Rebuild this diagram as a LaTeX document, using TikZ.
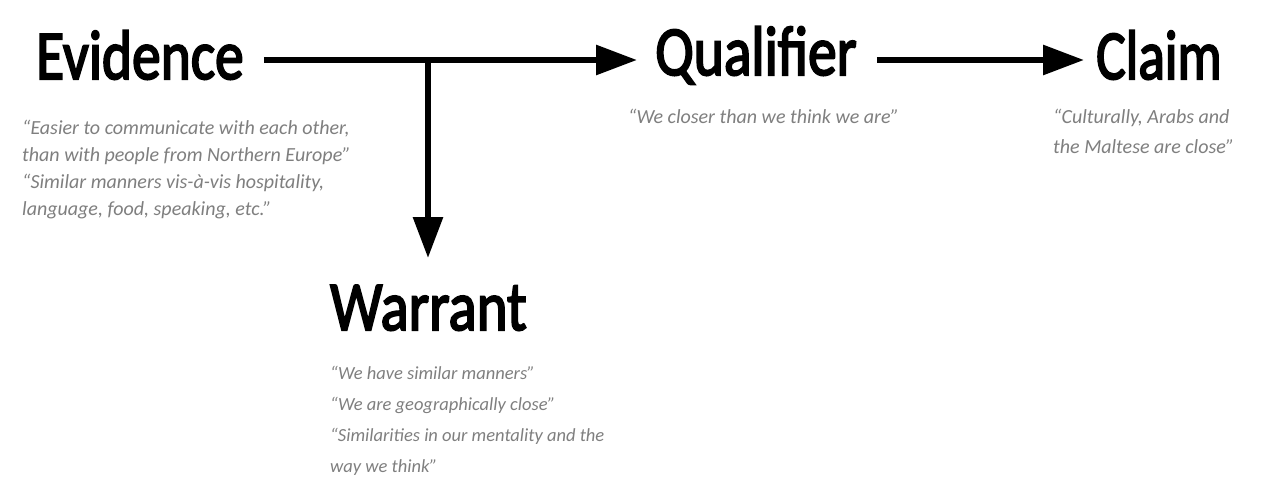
\documentclass[tikz,border=0pt]{standalone}
\usepackage{fontspec}
\setmainfont{Carlito}
\newfontfamily\headfont{Carlito}[BoldFont={Carlito},BoldFeatures={FakeBold=3}]
\usetikzlibrary{arrows.meta}
\definecolor{quotegray}{HTML}{7F7F7F}
\begin{document}
\begin{tikzpicture}[x=1pt,y=-1pt,
  title/.style={anchor=base west,inner sep=0pt,font=\fontsize{70}{70}\headfont\bfseries},
  quote/.style={anchor=north west,inner sep=0pt,align=left,text=quotegray,
    font=\fontsize{20}{27}\selectfont\itshape},
  arr/.style={line width=6pt,-{Triangle[length=41pt,width=29pt]}}]
\useasboundingbox (0,0) rectangle (1272,487);
\fill[white] (0,0) rectangle (1272,487);

% headings
\node[title] (evidence) at (36,79) {\scalebox{0.82}[1]{Evidence}};
\node[title] (qualifier) at (655,75) {\scalebox{0.82}[1]{Qualifier}};
\node[title] (claim) at (1096,79) {\scalebox{0.79}[1]{Claim}};
\node[title] (warrant) at (330,330) {\scalebox{0.84}[1]{Warrant}};

% quotations under each heading
\node[quote] (evq) at (22,120) {“Easier to communicate with each other,\\
than with people from Northern Europe”\\
“Similar manners vis-à-vis hospitality,\\
language, food, speaking, etc.”};
\node[quote] (quq) at (628,109) {“We closer than we think we are”};
\node[quote,font=\fontsize{20}{30}\selectfont\itshape] (clq) at (1053,109)
  {“Culturally, Arabs and\\the Maltese are close”};
\node[quote,font=\fontsize{18.5}{31}\selectfont\itshape] (waq) at (330,366)
  {“We have similar manners”\\
“We are geographically close”\\
“Similarities in our mentality and the\\
way we think”};

% connectors
\coordinate (j) at (428,60);
\coordinate (qtip) at (637,60);
\coordinate (wtip) at (428,258);
\coordinate (ctip) at (1084,60);
\draw[line width=6pt] (evidence.east |- j) ++(20,0) -- (j);
\draw[arr] (j) -- (qtip);
\draw[arr] (j) -- (wtip);
\draw[arr] (qualifier.east |- j) ++(20,0) -- (ctip);
\end{tikzpicture}
\end{document}
